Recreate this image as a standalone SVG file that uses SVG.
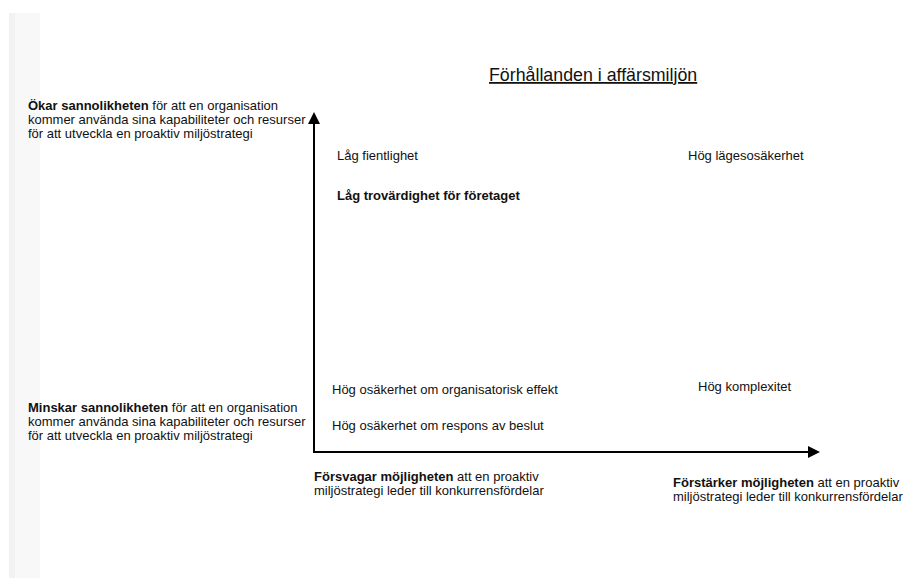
<svg xmlns="http://www.w3.org/2000/svg" width="905" height="578" viewBox="0 0 905 578">
  <style>
    text { font-family: "Liberation Sans", Arial, Helvetica, sans-serif; font-size: 13px; fill: #111; }
    .b { font-weight: bold; }
    .title { font-size: 17.8px; text-decoration: underline; }
    .axis { stroke: #000; stroke-width: 2; fill: none; }
  </style>
  <defs>
    <marker id="arrow" markerUnits="userSpaceOnUse" markerWidth="13" markerHeight="12" refX="0" refY="6" orient="auto">
      <path d="M0,0 L12,6 L0,12 Z" fill="#000"/>
    </marker>
  </defs>
  <rect width="905" height="578" fill="#fff"/>
  <g id="sidebar">
    <rect x="9" y="13" width="31" height="565" fill="#f8f8f8"/>
    <rect x="9" y="13" width="6" height="565" fill="#f2f2f2"/>
  </g>
  <g id="connectors">
    <path class="axis" d="M314,453 V124" marker-end="url(#arrow)"/>
    <path class="axis" d="M313,452 H808" marker-end="url(#arrow)"/>
  </g>
  <g id="title">
    <text class="title" x="489" y="81">Förhållanden i affärsmiljön</text>
  </g>
  <g id="okar">
    <text x="28" y="110"><tspan class="b">Ökar sannolikheten</tspan> för att en organisation</text>
    <text x="28" y="124">kommer använda sina kapabiliteter och resurser</text>
    <text x="28" y="138">för att utveckla en proaktiv miljöstrategi</text>
  </g>
  <g id="minskar">
    <text x="28" y="412"><tspan class="b">Minskar sannolikheten</tspan> för att en organisation</text>
    <text x="28" y="426">kommer använda sina kapabiliteter och resurser</text>
    <text x="28" y="440">för att utveckla en proaktiv miljöstrategi</text>
  </g>
  <g id="lag-fientlighet">
    <text x="337" y="160">Låg fientlighet</text>
  </g>
  <g id="lag-trovardighet">
    <text class="b" x="337" y="200">Låg trovärdighet för företaget</text>
  </g>
  <g id="hog-lagesosakerhet">
    <text x="688" y="160">Hög lägesosäkerhet</text>
  </g>
  <g id="hog-osakerhet-org">
    <text x="332" y="394">Hög osäkerhet om organisatorisk effekt</text>
  </g>
  <g id="hog-osakerhet-respons">
    <text x="332" y="430">Hög osäkerhet om respons av beslut</text>
  </g>
  <g id="hog-komplexitet">
    <text x="698" y="391">Hög komplexitet</text>
  </g>
  <g id="forsvagar">
    <text x="314" y="481"><tspan class="b">Försvagar möjligheten</tspan> att en proaktiv</text>
    <text x="314" y="495">miljöstrategi leder till konkurrensfördelar</text>
  </g>
  <g id="forstarker">
    <text x="673" y="487"><tspan class="b">Förstärker möjligheten</tspan> att en proaktiv</text>
    <text x="673" y="501">miljöstrategi leder till konkurrensfördelar</text>
  </g>
</svg>
